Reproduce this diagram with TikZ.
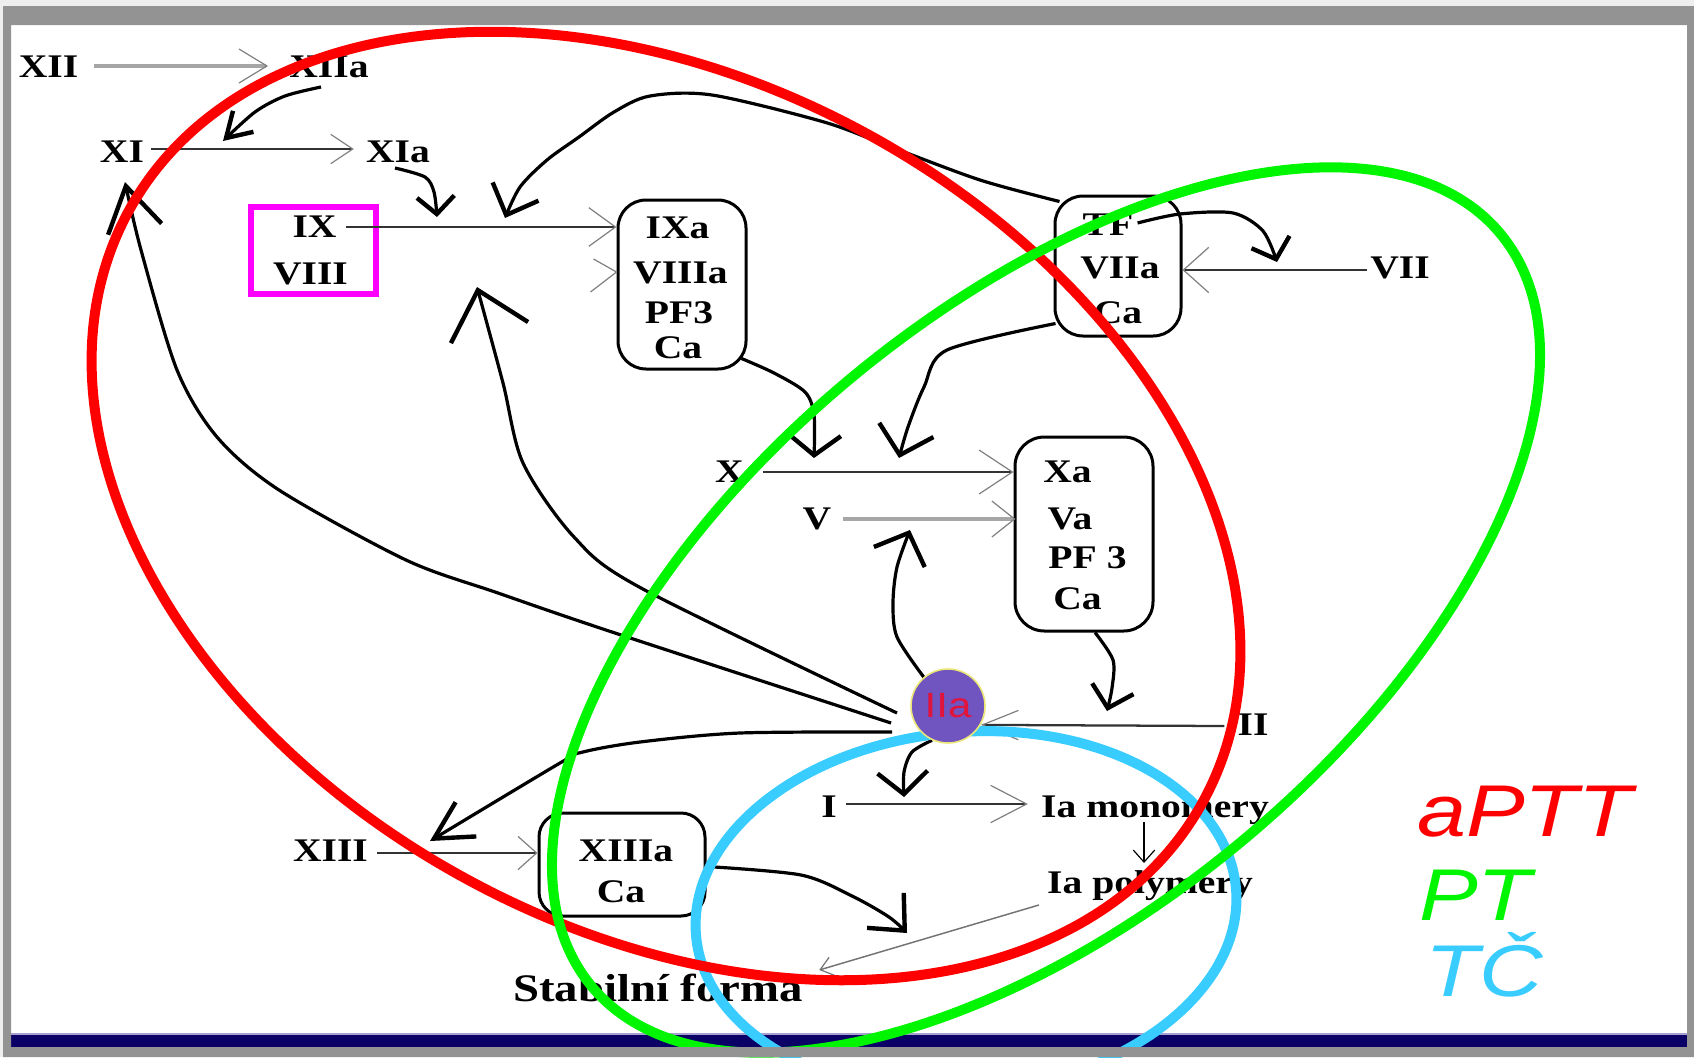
\documentclass[tikz,border=0pt]{standalone}
\usepackage{fontspec}
\setmainfont{Liberation Serif}[FakeStretch=1.2]
\newfontfamily\arialx{Liberation Sans}[FakeStretch=1.2]
\usetikzlibrary{arrows.meta,calc}

\definecolor{framegray}{RGB}{147,147,147}
\definecolor{outergray}{RGB}{238,238,238}
\definecolor{navyband}{RGB}{10,0,102}
\definecolor{lavender}{RGB}{168,160,208}
\definecolor{ovred}{RGB}{255,0,0}
\definecolor{ovgreen}{RGB}{0,245,0}
\definecolor{ovcyan}{RGB}{56,204,255}
\definecolor{thrombin}{RGB}{112,84,192}
\definecolor{thrombinrim}{RGB}{235,230,120}
\definecolor{thrombintext}{RGB}{225,20,60}
\definecolor{keybox}{RGB}{255,0,255}

\pgfdeclarelayer{ovals}
\pgfdeclarelayer{front}
\pgfsetlayers{main,ovals,front}

\tikzset{
  lab/.style={font=\fontsize{24.75}{28}\selectfont\bfseries, inner sep=0pt, anchor=base},
  cplx/.style={draw, line width=2.25pt, rounded corners=#1, inner sep=0pt},
  rxn/.style={draw=black!80, line width=1.7pt},
  rxngray/.style={draw=black!35, line width=3pt},
  opentip/.style 2 args={-{Straight Barb[length=#1, width=#2, line width=0.9pt, color=black!50]}},
  hand/.style 2 args={line width=2.4pt, line join=round, -{Straight Barb[length=#1, width=#2, line width=3.3pt]}},
  oval/.style={line width=7.5pt},
  legend/.style={font=\arialx\itshape\fontsize{55}{58}\selectfont, inner sep=0pt, anchor=base west},
}

\begin{document}
\begin{tikzpicture}[x=0.75pt, y=-0.75pt]
\useasboundingbox (0,0) rectangle (1694,1057);

% slide background and bottom band
\fill[outergray] (0,0) rectangle (1694,1057);
\fill[white] (11,25) rectangle (1687,1047);
\fill[lavender] (11,1033) rectangle (1687,1035);
\fill[navyband] (11,1035) rectangle (1687,1047);

% thrombin
\begin{pgfonlayer}{front}
  \node[circle, fill=thrombin, draw=thrombinrim, line width=1.2pt, minimum size=55.5pt,
        inner sep=0pt, text=thrombintext, font=\arialx\fontsize{26.25}{28}\selectfont]
        (iia) at (948,706) {IIa};
  \fill[framegray, even odd rule] (3,6) rectangle (1694,1057) (11,25) rectangle (1687,1047);
\end{pgfonlayer}

% intrinsic branch
\node[lab] (xii) at (48.5,77) {XII};
\node[lab] (xiia) at (329,77) {XIIa};
\node[lab] (xi) at (122,162) {XI};
\node[lab] (xia) at (398,162) {XIa};
\node[draw=keybox, line width=4.9pt, minimum width=93.75pt, minimum height=65.25pt, inner sep=0pt]
      (keyix) at (313.5,250.5) {};
\node[lab] (ix) at (314.5,237) {IX};
\node[lab] (viii) at (310.5,284) {VIII};

\node[cplx=21pt, minimum width=96pt, minimum height=126.75pt] (ixabox) at (682,284.5) {};
\node[lab] (ixa) at (677.5,238) {IXa};
\node[lab] (viiia) at (680.5,283) {VIIIa};
\node[lab] (pfa) at (679,323) {PF3};
\node[lab] (caa) at (678,358) {Ca};

% extrinsic branch
\node[cplx=21pt, minimum width=94.5pt, minimum height=105pt] (tfbox) at (1118,266) {};
\node[lab] (tf) at (1108,235) {TF};
\node[lab] (viia) at (1120,278) {VIIa};
\node[lab] (cab) at (1118,323) {Ca};
\node[lab] (vii) at (1400,278) {VII};

% prothrombinase
\node[lab] (x) at (729.5,482) {X};
\node[lab] (v) at (817,529) {V};
\node[cplx=22pt, minimum width=103.5pt, minimum height=145.5pt] (xabox) at (1084,534) {};
\node[lab] (xa) at (1067.5,482) {Xa};
\node[lab] (va) at (1070,529) {Va};
\node[lab] (pfb) at (1087.5,568) {PF 3};
\node[lab] (cac) at (1077.5,609) {Ca};

% common pathway
\node[lab] (ii) at (1253,735) {II};
\node[lab] (i) at (829,817) {I};
\node[lab] (mono) at (1155,817) {Ia monomery};
\node[lab] (poly) at (1150,893) {Ia polymery};
\node[lab] (xiii) at (330.5,861) {XIII};
\node[cplx=18pt, minimum width=124.5pt, minimum height=77.25pt] (xiiiabox) at (622,864.5) {};
\node[lab] (xiiia) at (626,861) {XIIIa};
\node[lab] (cad) at (621,902) {Ca};
\node[lab, font=\fontsize{29.25}{32}\selectfont\bfseries] (stab) at (658,1001) {Stabilní forma};

% legend
\node[legend, text=ovred] (kaptt) at (1417,836) {aPTT};
\node[legend, text=ovgreen] (kpt) at (1419,920) {PT};
\node[legend, text=ovcyan] (ktc) at (1425,996) {TČ};

% points where enzymes act on a conversion
\coordinate (xiact) at (223,141);
\coordinate (ixact) at (437,217);
\coordinate (ixact2) at (505,218);
\coordinate (viiiact) at (477,287);
\coordinate (xact1) at (814,458);
\coordinate (xact2) at (899,458);
\coordinate (viiact) at (1277,262);
\coordinate (vact) at (910,530);
\coordinate (iiact) at (1107,711);
\coordinate (iact) at (904,797);
\coordinate (xiiiact) at (430,841);
\coordinate (stabact) at (907,933);

% conversions
\draw[rxngray, opentip={21pt}{25.5pt}] ($(xii.base east)+(16,-11)$) -- ($(xiia.base west)+(-21,-11)$);
\draw[rxn, opentip={16.5pt}{22pt}] ($(xi.base east)+(7,-13)$) -- ($(xia.base west)+(-12,-13)$);
\draw[rxn, opentip={20pt}{29pt}] ($(ix.base east)+(9,-10)$) -- ($(ix.base east -| ixabox.west)+(0,-10)$);
\draw[black!50, line width=0.9pt] ($(viiia.base -| ixabox.west)+(-23,-24)$) -- ($(viiia.base -| ixabox.west)+(0,-11)$) -- ($(viiia.base -| ixabox.west)+(-26,9)$);
\draw[rxn, opentip={25pt}{33pt}] ($(x.base east)+(19,-10)$) -- ($(x.base east -| xabox.west)+(0,-10)$);
\draw[rxngray, opentip={17pt}{27pt}] ($(v.base east)+(11,-10)$) -- ($(v.base east -| xabox.west)+(2,-10)$);
\draw[rxn, opentip={19pt}{34pt}] ($(vii.base west)+(-3,-8)$) -- ($(vii.base west -| tfbox.east)+(0,-8)$);
\draw[rxn, opentip={27pt}{22pt}] ($(ii.base west)+(-13,-9)$) -- (iia.-30);
\draw[rxn, opentip={27pt}{28pt}] ($(i.base east)+(9,-13)$) -- ($(mono.base west)+(-13,-13)$);
\draw[rxn, opentip={14pt}{25pt}] ($(xiii.base east)+(9,-8)$) -- ($(xiii.base east -| xiiiabox.west)+(0,-8)$);
\draw[black, line width=1.5pt, -{Straight Barb[length=9pt, width=16pt, line width=0.9pt]}]
      ($(mono.base)+(-11,5)$) -- ($(poly.base)+(-6,-30)$);
\draw[black!55, line width=1.1pt, -{Straight Barb[length=9pt, width=14pt, line width=0.9pt]}]
      ($(poly.base west)+(-8,12)$) -- ($(stab.base east)+(16,-31)$);

% activations
\draw[hand={18pt}{22pt}] plot[smooth] coordinates {($(xiia.base)+(-8,10)$) (285,96) (255,112) (xiact)};
\draw[hand={13pt}{28pt}] plot[smooth] coordinates {($(xia.base)+(-3,6)$) (425,177) (434,192) (ixact)};
\draw[hand={19pt}{37pt}] plot[smooth] coordinates {($(tfbox.north west)+(6,7)$) (980,180) (891,147) (824,122) (712,95) (650,96) (614,112) (579,137) (547,160) (520,187) (ixact2)};
\draw[hand={15pt}{39pt}] plot[smooth] coordinates {($(ixabox.south east)+(-6,-12)$) (774,373) (805,392) (814,415) (xact1)};
\draw[hand={19.5pt}{42pt}] plot[smooth] coordinates {($(tfbox.south west)+(2,-14)$) (947,350) (924,387) (908,427) (xact2)};
\draw[hand={13.5pt}{30pt}] plot[smooth] coordinates {($(tf.base east)+(4,-12)$) (1180,214) (1233,213) (1263,231) (viiact)};
\draw[hand={15pt}{32pt}] plot[smooth] coordinates {($(xabox.south)+(11,0)$) (1113,660) (1112,688) (iiact)};
\draw[hand={19.5pt}{41pt}] plot[smooth] coordinates {(iia.130) (897,637) (893,603) (897,567) (vact)};
\draw[hand={16.5pt}{37.5pt}] plot[smooth] coordinates {(iia.245) (912,752) (904,772) (iact)};
\draw[hand={21pt}{38pt}] plot[smooth] coordinates {($(xiiiabox.east)+(0,2)$) (801,875) (852,896) (889,917) (stabact)};
\draw[hand={33pt}{60pt}] plot[smooth] coordinates {($(iia.center)+(-51,7)$) (641,588) (574,537) (523,463) (503,383) (viiiact)};
\draw[hand={33pt}{41pt}] plot[smooth] coordinates {($(iia.center)+(-57,17)$) (615,633) (498,593) (406,560) (279,490) (217,437) (177,370) (141,250) ($(xi.base)+(3,20)$)};
\draw[hand={28pt}{30pt}] plot[smooth] coordinates {($(iia.center)+(-56,26)$) (740,733) (640,742) (583,752) (560,763) (xiiiact)};

% test coverage
\begin{pgfonlayer}{ovals}
  \draw[oval, ovcyan, rotate around={5:(966,912)}] (966,912) ellipse [x radius=203.25pt, y radius=135pt];
  \draw[oval, ovred, rotate around={-28.9:(666,506)}] (666,506) ellipse [x radius=459.75pt, y radius=317.25pt];
  \draw[oval, ovgreen, rotate around={39.6:(1046,610)}] (1046,610) ellipse [x radius=442.5pt, y radius=227.25pt];
\end{pgfonlayer}
\end{tikzpicture}
\end{document}
